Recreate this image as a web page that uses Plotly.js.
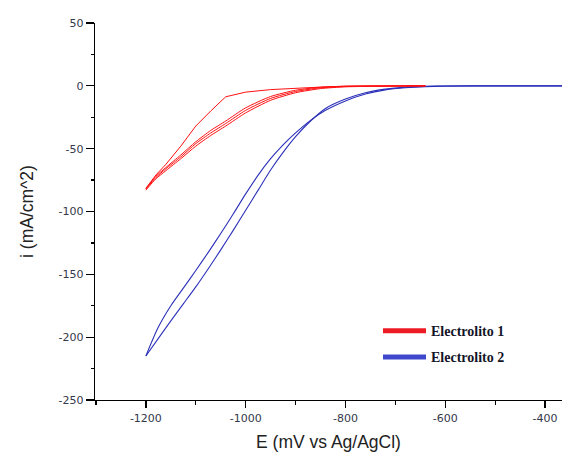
<!DOCTYPE html>
<html>
<head>
<meta charset="utf-8">
<script src="https://cdn.plot.ly/plotly-3.0.1.min.js"></script>
<style>html,body{margin:0;padding:0;background:#fff;}#chart{width:562px;height:456px;}</style>
</head>
<body>
<div id="chart"></div>
<script>
// ---- Data ----
// Electrolito 1 (red): potential grid, first cathodic scan and following cycles
const redE      = [-640, -700, -750, -800, -850, -900, -950, -1000, -1040, -1070, -1100, -1130, -1160, -1180, -1200];
const redOuter  = [0, -0.1, -0.2, -0.3, -1.0, -2.0, -3.0, -5.0, -8.7, -20, -32, -48, -62.5, -71, -81.5];
const redCycleA = [0, 0, -0.1, -0.3, -1.1, -3.5, -8.5, -17.5, -28, -35.5, -44.5, -55, -65, -72, -82];
const redCycleB = [0, -0.1, -0.2, -0.5, -1.6, -4.5, -10, -19.5, -30, -37.5, -46, -56.5, -66, -73, -82];
const redCycleC = [0, -0.2, -0.4, -0.8, -2.2, -5.5, -11.5, -21.5, -32, -39.5, -48, -58, -67.5, -74, -83];

// Electrolito 2 (blue): potential grid, forward and return scans
const blueE      = [-360, -500, -600, -640, -680, -720, -760, -800, -840, -870, -900, -925, -950, -975, -1000, -1025, -1050, -1075, -1100, -1125, -1150, -1175, -1200];
const blueFwd    = [0, 0, -0.2, -0.6, -1.5, -3.2, -6.5, -12, -19.5, -27.5, -37.5, -47, -58, -71, -86, -102, -117.5, -132.5, -147, -161, -175, -192, -215];
const blueReturn = [0, 0, -0.1, -0.4, -1.0, -2.6, -5.5, -10.5, -18, -28, -40.5, -53, -67, -83, -99, -115, -130.5, -145.5, -160, -173.5, -187, -201, -215];

// Axis ticks
const xTickVals = [-1200, -1000, -800, -600, -400];
const xTickText = ["-1200", "-1000", "-800", "-600", "-400"];
const yTickVals = [50, 0, -50, -100, -150, -200, -250];
const yTickText = ["50", "0", "-50", "-100", "-150", "-200", "-250"];

const seriesNames = ["Electrolito 1", "Electrolito 2"];

// ---- Build traces ----
const redLine = {color: '#ff1010', width: 1.0};
const blueLine = {color: '#2b30b8', width: 1.1};
const mk = (x, y, line) => ({x: x, y: y, type: 'scatter', mode: 'lines', line: line, showlegend: false, hoverinfo: 'skip'});

const traces = [
  mk(blueE, blueFwd, Object.assign({shape: 'spline', smoothing: 0.8}, blueLine)),
  mk(blueE, blueReturn, Object.assign({shape: 'spline', smoothing: 0.8}, blueLine)),
  mk(redE, redOuter, redLine),
  mk(redE, redCycleA, Object.assign({shape: 'spline', smoothing: 0.6}, redLine)),
  mk(redE, redCycleB, Object.assign({shape: 'spline', smoothing: 0.6}, redLine)),
  mk(redE, redCycleC, Object.assign({shape: 'spline', smoothing: 0.6}, redLine)),
  {x: [null], y: [null], type: 'scatter', mode: 'lines', name: seriesNames[0], legendgroup: 'a', line: {color: '#ED1C24', width: 5}},
  {x: [null], y: [null], type: 'scatter', mode: 'lines', name: seriesNames[1], legendgroup: 'b', line: {color: '#3F48CC', width: 5}}
];

const axisCommon = {
  showline: true, linecolor: '#000', linewidth: 1.3,
  ticks: 'outside', tickcolor: '#000', tickwidth: 1.3,
  showgrid: false, zeroline: false, mirror: false,
  tickmode: 'array',
  tickfont: {family: 'DejaVu Sans, Verdana, sans-serif', size: 11, color: '#33384a'}
};

const layout = {
  width: 562, height: 456,
  margin: {l: 95, r: 0, t: 23, b: 56, pad: 0},
  paper_bgcolor: '#fff', plot_bgcolor: '#fff',
  xaxis: Object.assign({}, axisCommon, {
    range: [-1302, -366], tickvals: xTickVals, ticktext: xTickText, ticklen: 7,
    minor: {dtick: 100, tick0: -1300, ticks: 'outside', ticklen: 4, tickcolor: '#000', tickwidth: 1.2},
    title: {text: 'E (mV vs Ag/AgCl)', font: {family: 'Liberation Sans, Arial, sans-serif', size: 17.5, color: '#222'}, standoff: 12}
  }),
  yaxis: Object.assign({}, axisCommon, {
    range: [-250, 50], tickvals: yTickVals, ticktext: yTickText, ticklen: 8,
    minor: {dtick: 25, tick0: 0, ticks: 'outside', ticklen: 3, tickcolor: '#000', tickwidth: 1.2},
    title: {text: 'i (mA/cm^2)', font: {family: 'Liberation Sans, Arial, sans-serif', size: 17.5, color: '#222'}, standoff: 20}
  }),
  showlegend: true,
  legend: {
    x: 0.606, y: 0.225, xanchor: 'left', yanchor: 'top',
    traceorder: 'grouped', tracegroupgap: 5, itemwidth: 43,
    bgcolor: 'rgba(0,0,0,0)', borderwidth: 0,
    font: {family: 'Liberation Serif, Times New Roman, serif', size: 14, color: '#141428', weight: 'bold'}
  }
};

Plotly.newPlot('chart', traces, layout, {staticPlot: true, displayModeBar: false});
</script>
</body>
</html>
